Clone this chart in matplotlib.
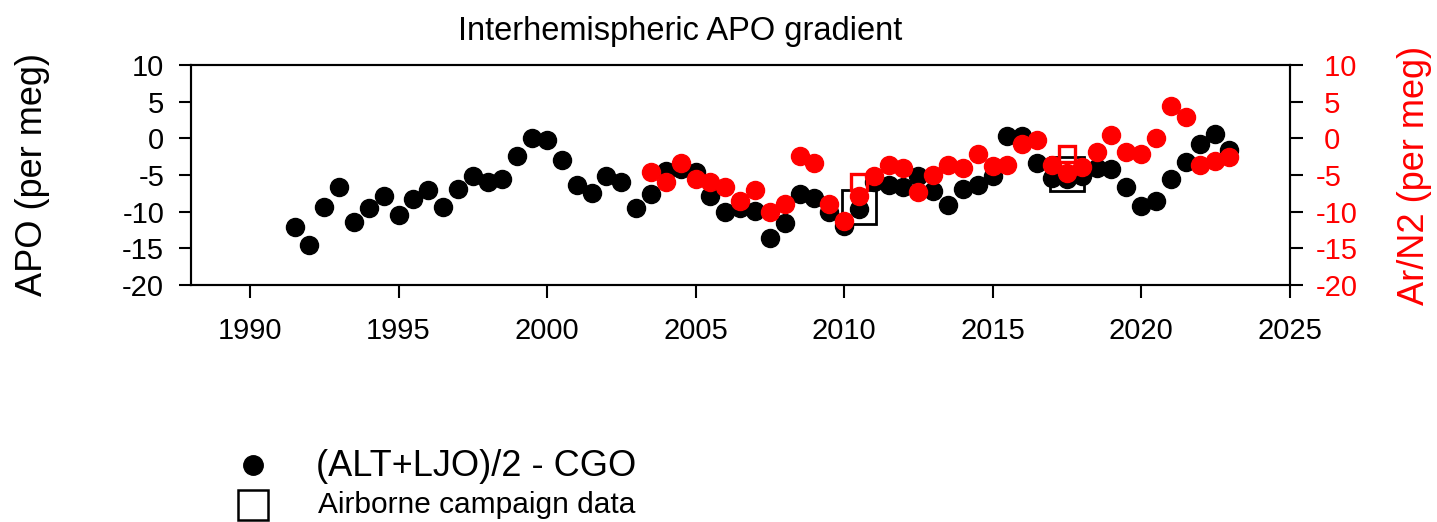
import numpy as np
import matplotlib
matplotlib.use('Agg')
import matplotlib.pyplot as plt
from matplotlib.lines import Line2D
from matplotlib.ticker import FuncFormatter, MultipleLocator

plt.rcParams['font.family'] = ['Liberation Sans', 'DejaVu Sans']
plt.rcParams['axes.unicode_minus'] = False

# (ALT+LJO)/2 - CGO, APO difference (per meg), half-yearly
apo_years = [1991.5, 1992.0, 1992.5, 1993.0, 1993.5, 1994.0, 1994.5, 1995.0,
             1995.5, 1996.0, 1996.5, 1997.0, 1997.5, 1998.0, 1998.5, 1999.0,
             1999.5, 2000.0, 2000.5, 2001.0, 2001.5, 2002.0, 2002.5, 2003.0,
             2003.5, 2004.0, 2004.5, 2005.0, 2005.5, 2006.0, 2006.5, 2007.0,
             2007.5, 2008.0, 2008.5, 2009.0, 2009.5, 2010.0, 2010.5, 2011.0,
             2011.5, 2012.0, 2012.5, 2013.0, 2013.5, 2014.0, 2014.5, 2015.0,
             2015.5, 2016.0, 2016.5, 2017.0, 2017.5, 2018.0, 2018.5, 2019.0,
             2019.5, 2020.0, 2020.5, 2021.0, 2021.5, 2022.0, 2022.5, 2022.95]
apo_diff = [-12.1, -14.6, -9.4, -6.7, -11.4, -9.5, -7.8, -10.4,
            -8.3, -7.05, -9.3, -6.9, -5.1, -6.0, -5.6, -2.4,
            0.1, -0.2, -3.0, -6.3, -7.5, -5.2, -5.9, -9.5,
            -7.6, -4.4, -4.2, -4.6, -7.9, -10.0, -9.5, -9.9,
            -13.6, -11.6, -7.6, -8.2, -10.0, -12.0, -9.6, -6.0,
            -6.3, -6.6, -5.2, -7.2, -9.1, -6.9, -6.3, -5.2,
            0.3, 0.3, -3.4, -5.4, -5.6, -5.2, -4.05, -4.2,
            -6.6, -9.2, -8.5, -5.6, -3.2, -0.8, 0.6, -1.6]

# Ar/N2 difference (per meg), half-yearly
arn2_years = [2003.5, 2004.0, 2004.5, 2005.0, 2005.5, 2006.0, 2006.5, 2007.0,
              2007.5, 2008.0, 2008.5, 2009.0, 2009.5, 2010.0, 2010.5, 2011.0,
              2011.5, 2012.0, 2012.5, 2013.0, 2013.5, 2014.0, 2014.5, 2015.0,
              2015.5, 2016.0, 2016.5, 2017.0, 2017.5, 2018.0, 2018.5, 2019.0,
              2019.5, 2020.0, 2020.5, 2021.0, 2021.5, 2022.0, 2022.5, 2022.95]
arn2_diff = [-4.65, -5.9, -3.3, -5.5, -5.9, -6.7, -8.5, -7.0,
             -10.05, -9.0, -2.4, -3.4, -8.9, -11.3, -7.9, -5.1,
             -3.6, -4.05, -7.3, -5.0, -3.6, -4.0, -2.1, -3.8,
             -3.7, -0.8, -0.2, -3.6, -4.7, -3.9, -1.9, 0.5,
             -1.9, -2.2, 0.0, 4.45, 2.85, -3.7, -3.15, -2.55]

# airborne campaigns (HIPPO 2010, ATom 2017)
air_years = [2010.5, 2017.5]
air_apo = [-9.3, -4.85]
air_arn2 = [-6.0, -2.2]

RED = '#ff0000'
W, H = 1437, 522

fig = plt.figure(figsize=(W / 100, H / 100), dpi=100)
ax = fig.add_axes([190.6 / W, 1 - 285 / H, 1099 / W, 220 / H])
ax2 = ax.twinx()

ax.plot(apo_years, apo_diff, ls='none', marker='o', ms=13, color='black', zorder=2)
ax.plot(air_years, air_apo, ls='none', marker='s', ms=24, mfc='none',
        mec='black', mew=2.0, zorder=3)
ax2.plot(arn2_years, arn2_diff, ls='none', marker='o', ms=13, color=RED, zorder=2)
ax2.plot(air_years, air_arn2, ls='none', marker='s', ms=11.5, mfc='none',
         mec=RED, mew=2.4, zorder=3)

ax.set_xlim(1988, 2025)
for a in (ax, ax2):
    a.set_ylim(-20, 10)
    a.yaxis.set_major_locator(MultipleLocator(5))
ax.xaxis.set_major_locator(MultipleLocator(5))

for a in (ax, ax2):
    for s in a.spines.values():
        s.set_linewidth(1.5)

ax.tick_params(axis='x', direction='out', length=9, width=1.5, labelsize=21, pad=14)
ax.tick_params(axis='y', direction='out', length=9, width=1.5, labelsize=21, pad=10)
ax2.tick_params(axis='y', direction='out', length=9, width=1.5, labelsize=21,
                pad=10, labelcolor=RED)
ax2.yaxis.set_major_formatter(FuncFormatter(lambda v, p: f'{v:.0f}' if v < 0 else f' {v:.0f}'))

ax.set_ylabel('APO (per meg)', fontsize=26, va='center')
ax.yaxis.set_label_coords((33 - 190.6) / 1099, 0.5)
ax2.set_ylabel('Ar/N2 (per meg)', fontsize=26, color=RED, va='center', rotation=90)
ax2.yaxis.set_label_coords((1414 - 190.6) / 1099, 0.5)

fig.text(680 / W, 1 - 40 / H, 'Interhemispheric APO gradient', fontsize=23.5,
         ha='center', va='baseline')

# legend keys drawn in figure pixels
def key(x, y, **kw):
    fig.add_artist(Line2D([x / W], [1 - y / H], transform=fig.transFigure, ls='none', **kw))

key(253, 465, marker='o', ms=14, color='black')
key(253, 505, marker='s', ms=22, mfc='none', mec='black', mew=1.8)
fig.text(316 / W, 1 - 476 / H, '(ALT+LJO)/2 - CGO', fontsize=26, va='baseline')
fig.text(318 / W, 1 - 513 / H, 'Airborne campaign data', fontsize=21.5, va='baseline')

fig.savefig('out.png', dpi=100)
